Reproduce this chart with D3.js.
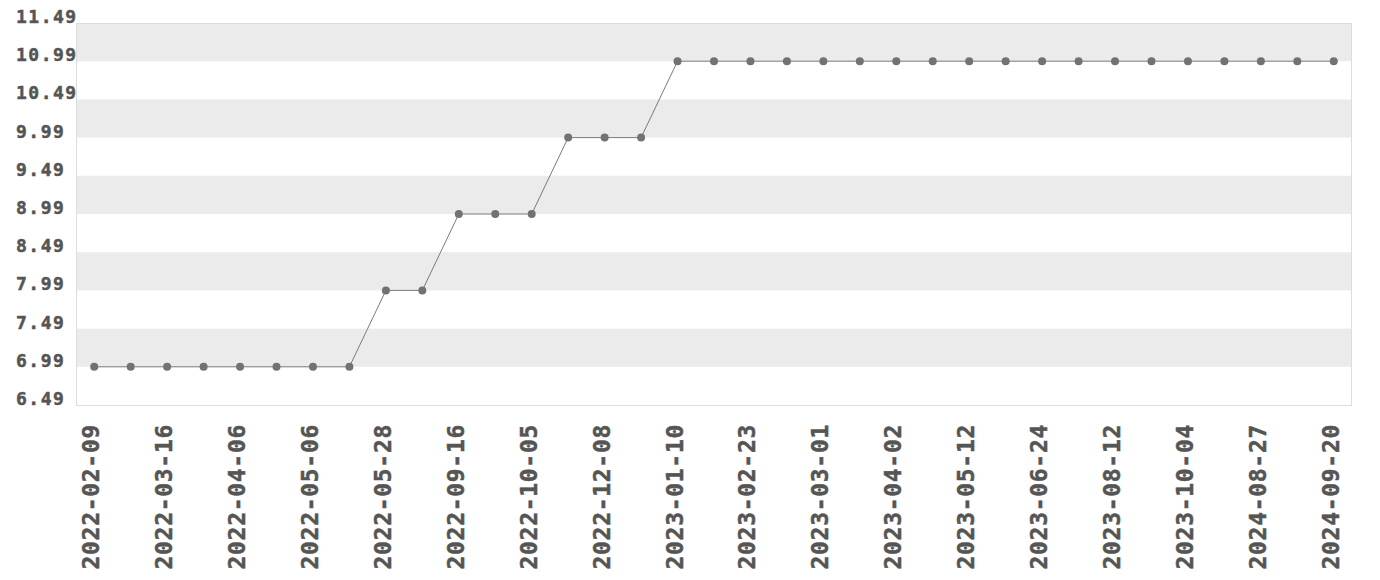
<!DOCTYPE html>
<html>
<head>
<meta charset="utf-8">
<script src="https://cdn.jsdelivr.net/npm/d3@7"></script>
<style>
  body { margin: 0; background: #fff; }
  text { font-family: "DejaVu Sans Mono", monospace; font-weight: bold; fill: #555; stroke: #555; stroke-width: 0.5px; }
</style>
</head>
<body>
<div class="chart"></div>
<script>
var svgWidth = 1380;
var svgHeight = 580;

var margin = { top: 23, right: 28, bottom: 175, left: 76 };
var width = svgWidth - margin.left - margin.right;
var height = svgHeight - margin.top - margin.bottom;

// price values, one per observation
var prices = [
  6.99, 6.99, 6.99, 6.99, 6.99, 6.99, 6.99, 6.99,
  7.99, 7.99,
  8.99, 8.99, 8.99,
  9.99, 9.99, 9.99,
  10.99, 10.99, 10.99, 10.99, 10.99, 10.99, 10.99, 10.99, 10.99,
  10.99, 10.99, 10.99, 10.99, 10.99, 10.99, 10.99, 10.99, 10.99, 10.99
];

// dates shown on the x axis (every second observation)
var dateLabels = [
  "2022-02-09", "2022-03-16", "2022-04-06", "2022-05-06", "2022-05-28",
  "2022-09-16", "2022-10-05", "2022-12-08", "2023-01-10", "2023-02-23",
  "2023-03-01", "2023-04-02", "2023-05-12", "2023-06-24", "2023-08-12",
  "2023-10-04", "2024-08-27", "2024-09-20"
];

var yTicks = [6.49, 6.99, 7.49, 7.99, 8.49, 8.99, 9.49, 9.99, 10.49, 10.99, 11.49];

var svg = d3.select(".chart")
  .append("svg")
  .attr("width", svgWidth)
  .attr("height", svgHeight);

var chartGroup = svg.append("g")
  .attr("transform", `translate(${margin.left}, ${margin.top})`);

var xScale = d3.scalePoint()
  .domain(d3.range(prices.length))
  .range([0, width])
  .padding(0.5);

var yScale = d3.scaleLinear()
  .domain([6.49, 11.49])
  .range([height, 0]);

// alternating bands
var bands = d3.pairs(yTicks).filter((p, i) => i % 2 === 1);
chartGroup.selectAll("rect.band")
  .data(bands)
  .enter()
  .append("rect")
  .attr("class", "band")
  .attr("x", 0)
  .attr("width", width)
  .attr("y", d => yScale(d[1]))
  .attr("height", d => yScale(d[0]) - yScale(d[1]))
  .attr("fill", "#ebebeb");

// frame
chartGroup.append("rect")
  .attr("x", 0.5)
  .attr("y", 0.5)
  .attr("width", width - 1)
  .attr("height", height)
  .attr("fill", "none")
  .attr("stroke", "#dddddd");

// y labels
svg.selectAll("text.ylab")
  .data(yTicks)
  .enter()
  .append("text")
  .attr("class", "ylab")
  .attr("x", 16)
  .attr("y", d => margin.top + yScale(d))
  .attr("font-size", "18px")
  .attr("letter-spacing", "1.5px")
  .text(d => d.toFixed(2));

// x labels
chartGroup.selectAll("text.xlab")
  .data(dateLabels)
  .enter()
  .append("text")
  .attr("class", "xlab")
  .attr("font-size", "23px")
  .attr("letter-spacing", "0.7px")
  .attr("text-anchor", "end")
  .attr("transform", (d, i) => `translate(${xScale(i * 2) + 5}, ${height + 19}) rotate(-90)`)
  .text(d => d);

// line
var line = d3.line()
  .x((d, i) => xScale(i))
  .y(d => yScale(d));

chartGroup.append("path")
  .datum(prices)
  .attr("d", line)
  .attr("fill", "none")
  .attr("stroke", "#7a7a7a")
  .attr("stroke-width", 1);

chartGroup.selectAll("circle")
  .data(prices)
  .enter()
  .append("circle")
  .attr("cx", (d, i) => xScale(i))
  .attr("cy", d => yScale(d))
  .attr("r", 4)
  .attr("fill", "#727272");
</script>
</body>
</html>
